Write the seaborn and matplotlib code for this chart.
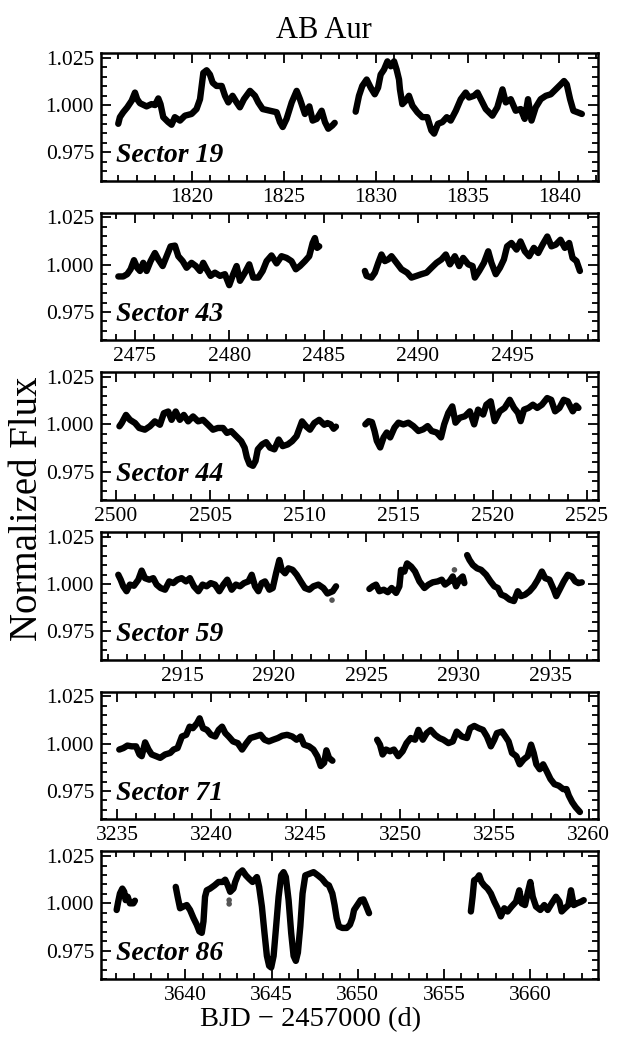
import numpy as np
import pandas as pd
import matplotlib
matplotlib.use("Agg")
import matplotlib.pyplot as plt
from matplotlib.ticker import MultipleLocator, FormatStrFormatter
import seaborn as sns

# ---- TESS light curves of AB Aur (binned along the light curve) ----
sectors = [19, 43, 44, 59, 71, 86]

t19 = [1815.99, 1816.08, 1816.26, 1816.48, 1816.72, 1816.90, 1817.02, 1817.17, 1817.53, 1817.80,
       1817.99, 1818.17, 1818.29, 1818.44, 1818.71, 1818.89, 1819.07, 1819.35, 1819.62, 1819.98,
       1820.25, 1820.44, 1820.62, 1820.80, 1820.98, 1821.13, 1821.34, 1821.62, 1821.80, 1821.98,
       1822.21, 1822.43, 1822.61, 1822.83, 1823.16, 1823.43, 1823.61, 1823.85, 1824.25, 1824.61,
       1824.79, 1824.94, 1825.15, 1825.43, 1825.70, 1825.88, 1826.15, 1826.39, 1826.57, 1826.79,
       1827.06, 1827.24, 1827.42, 1827.64, 1827.77,
       1828.91, 1829.09, 1829.27, 1829.51, 1829.73, 1829.95, 1830.13, 1830.27, 1830.45, 1830.64,
       1830.82, 1831.00, 1831.14, 1831.27, 1831.32, 1831.45, 1831.63, 1831.81, 1832.00, 1832.27,
       1832.54, 1832.81, 1833.03, 1833.18, 1833.39, 1833.63, 1833.87, 1834.08, 1834.36, 1834.63,
       1834.90, 1835.08, 1835.35, 1835.54, 1835.72, 1835.99, 1836.35, 1836.62, 1836.90, 1837.08,
       1837.35, 1837.62, 1837.89, 1838.11, 1838.29, 1838.48, 1838.71, 1838.98, 1839.26, 1839.53,
       1839.80, 1840.07, 1840.25, 1840.40, 1840.58, 1840.76, 1840.98, 1841.22]
f19 = [0.9901, 0.9936, 0.9962, 0.9988, 1.0023, 1.0066, 1.0031, 1.0010, 0.9993, 1.0005,
       1.0000, 1.0035, 1.0005, 0.9936, 0.9910, 0.9896, 0.9936, 0.9918, 0.9944, 0.9953,
       0.9979, 1.0031, 1.0170, 1.0184, 1.0161, 1.0118, 1.0101, 1.0101, 1.0049, 1.0014,
       1.0049, 1.0014, 0.9988, 1.0031, 1.0075, 1.0049, 1.0014, 0.9979, 0.9970, 0.9962,
       0.9910, 0.9884, 0.9927, 1.0014, 1.0075, 1.0031, 0.9953, 0.9993, 0.9918, 0.9927,
       0.9970, 0.9910, 0.9875, 0.9892, 0.9906,
       0.9965, 1.0049, 1.0101, 1.0135, 1.0092, 1.0057, 1.0092, 1.0161, 1.0187, 1.0231,
       1.0205, 1.0231, 1.0187, 1.0135, 1.0083, 1.0005, 1.0023, 1.0049, 0.9997, 0.9962,
       0.9936, 0.9936, 0.9866, 0.9849, 0.9901, 0.9910, 0.9936, 0.9918, 0.9970, 1.0031,
       1.0066, 1.0040, 1.0049, 1.0066, 1.0031, 0.9979, 0.9944, 0.9988, 1.0083, 1.0014,
       1.0031, 0.9970, 0.9979, 0.9927, 1.0031, 0.9918, 0.9988, 1.0031, 1.0049, 1.0057,
       1.0083, 1.0109, 1.0127, 1.0109, 1.0031, 0.9970, 0.9962, 0.9953]
gaps19 = [1828.3]

t43 = [2474.12, 2474.38, 2474.59, 2474.77, 2474.95, 2475.12, 2475.27, 2475.44, 2475.62, 2475.83,
       2476.06, 2476.24, 2476.47, 2476.68, 2476.89, 2477.12, 2477.30, 2477.53, 2477.74, 2478.00,
       2478.23, 2478.45, 2478.62, 2478.80, 2479.01, 2479.24, 2479.51, 2479.77, 2480.00, 2480.21,
       2480.39, 2480.57, 2480.83, 2481.06, 2481.27, 2481.54, 2481.77, 2481.98, 2482.24, 2482.51,
       2482.77, 2483.04, 2483.30, 2483.53, 2483.75, 2484.01, 2484.24, 2484.42, 2484.54, 2484.66,
       2484.77,
       2487.19, 2487.28, 2487.54, 2487.72, 2487.90, 2488.07, 2488.25, 2488.43, 2488.60, 2488.87,
       2489.13, 2489.43, 2489.66, 2489.93, 2490.19, 2490.46, 2490.72, 2490.99, 2491.25, 2491.48,
       2491.70, 2491.96, 2492.19, 2492.40, 2492.67, 2492.90, 2493.02, 2493.25, 2493.50, 2493.73,
       2493.90, 2494.13, 2494.35, 2494.56, 2494.73, 2494.96, 2495.23, 2495.44, 2495.67, 2495.90,
       2496.15, 2496.38, 2496.61, 2496.86, 2497.08, 2497.31, 2497.56, 2497.79, 2498.02, 2498.20,
       2498.41, 2498.59]
f43 = [0.9938, 0.9938, 0.9950, 0.9976, 1.0024, 0.9984, 0.9967, 1.0010, 0.9967, 1.0019,
       1.0062, 1.0028, 0.9993, 1.0045, 1.0097, 1.0101, 1.0045, 1.0019, 0.9984, 1.0010,
       0.9993, 0.9967, 1.0010, 0.9976, 0.9941, 0.9958, 0.9941, 0.9950, 0.9892, 0.9950,
       0.9993, 0.9915, 0.9958, 1.0002, 0.9932, 0.9932, 0.9967, 1.0019, 1.0049, 1.0007,
       1.0045, 1.0036, 1.0019, 0.9976, 0.9993, 1.0019, 1.0045, 1.0115, 1.0141, 1.0089,
       1.0097,
       0.9967, 0.9941, 0.9932, 0.9958, 1.0010, 1.0054, 1.0019, 1.0028, 1.0045, 1.0010,
       0.9976, 0.9958, 0.9932, 0.9941, 0.9950, 0.9958, 0.9984, 1.0010, 1.0028, 1.0054,
       1.0002, 1.0045, 0.9993, 1.0036, 1.0002, 0.9993, 0.9932, 0.9967, 1.0010, 1.0071,
       1.0010, 0.9950, 0.9984, 1.0028, 1.0097, 1.0115, 1.0080, 1.0123, 1.0071, 1.0045,
       1.0089, 1.0062, 1.0106, 1.0149, 1.0097, 1.0106, 1.0132, 1.0089, 1.0115, 1.0036,
       1.0019, 0.9967]
gaps43 = [2486.0]

t44 = [2500.18, 2500.30, 2500.53, 2500.74, 2501.01, 2501.23, 2501.53, 2501.80, 2502.06, 2502.33,
       2502.54, 2502.77, 2502.95, 2503.17, 2503.39, 2503.60, 2503.83, 2504.09, 2504.36, 2504.62,
       2504.89, 2505.15, 2505.41, 2505.68, 2505.89, 2506.12, 2506.38, 2506.65, 2506.83, 2506.95,
       2507.09, 2507.27, 2507.41, 2507.53, 2507.76, 2507.97, 2508.18, 2508.41, 2508.64, 2508.85,
       2509.12, 2509.35, 2509.59, 2509.88, 2510.09, 2510.30, 2510.53, 2510.79, 2511.06, 2511.23,
       2511.40, 2511.56, 2511.68,
       2513.24, 2513.41, 2513.59, 2513.73, 2513.85, 2514.03, 2514.21, 2514.38, 2514.56, 2514.79,
       2515.00, 2515.26, 2515.53, 2515.79, 2516.06, 2516.32, 2516.55, 2516.76, 2517.03, 2517.26,
       2517.43, 2517.65, 2517.86, 2518.03, 2518.26, 2518.53, 2518.79, 2519.02, 2519.23, 2519.50,
       2519.67, 2519.90, 2520.11, 2520.38, 2520.64, 2520.91, 2521.14, 2521.35, 2521.49, 2521.67,
       2521.91, 2522.14, 2522.37, 2522.62, 2522.90, 2523.11, 2523.32, 2523.55, 2523.78, 2523.99,
       2524.26, 2524.44, 2524.56]
f44 = [0.9990, 1.0007, 1.0050, 1.0024, 1.0007, 0.9981, 0.9972, 0.9990, 1.0016, 0.9998,
       1.0059, 1.0068, 1.0024, 1.0068, 1.0024, 1.0050, 1.0016, 1.0042, 1.0016, 1.0024,
       0.9998, 0.9972, 0.9981, 0.9981, 0.9955, 0.9964, 0.9938, 0.9911, 0.9877, 0.9825,
       0.9790, 0.9781, 0.9807, 0.9868, 0.9894, 0.9906, 0.9877, 0.9868, 0.9920, 0.9885,
       0.9894, 0.9911, 0.9938, 1.0016, 0.9990, 0.9972, 1.0007, 1.0024, 0.9998, 1.0007,
       1.0000, 0.9977, 0.9988,
       1.0000, 1.0017, 1.0012, 0.9965, 0.9913, 0.9878, 0.9931, 0.9957, 0.9931, 0.9983,
       1.0009, 1.0000, 1.0009, 0.9991, 0.9965, 0.9974, 0.9991, 0.9965, 0.9957, 0.9931,
       1.0000, 1.0061, 1.0095, 1.0009, 1.0035, 1.0043, 1.0069, 1.0000, 1.0078, 1.0052,
       1.0104, 1.0122, 1.0017, 1.0069, 1.0087, 1.0130, 1.0087, 1.0061, 1.0017, 1.0078,
       1.0087, 1.0104, 1.0087, 1.0104, 1.0139, 1.0130, 1.0069, 1.0087, 1.0130, 1.0122,
       1.0069, 1.0099, 1.0087]
gaps44 = [2512.5]

t59 = [2911.54, 2911.67, 2911.81, 2911.99, 2912.17, 2912.39, 2912.63, 2912.81, 2912.99, 2913.22,
       2913.44, 2913.62, 2913.84, 2914.08, 2914.31, 2914.53, 2914.75, 2914.98, 2915.22, 2915.43,
       2915.65, 2915.89, 2916.12, 2916.34, 2916.56, 2916.79, 2917.03, 2917.25, 2917.46, 2917.70,
       2917.93, 2918.15, 2918.37, 2918.61, 2918.79, 2918.97, 2919.15, 2919.33, 2919.51, 2919.75,
       2919.93, 2920.11, 2920.29, 2920.42, 2920.60, 2920.78, 2921.01, 2921.23, 2921.45, 2921.68,
       2921.92, 2922.14, 2922.41, 2922.68, 2922.90, 2923.19, 2923.37,
       2925.18, 2925.36, 2925.54, 2925.72, 2925.96, 2926.18, 2926.39, 2926.63, 2926.81, 2926.90,
       2927.08, 2927.23, 2927.45, 2927.66, 2927.90, 2928.17, 2928.39, 2928.62, 2928.89, 2929.11,
       2929.29, 2929.53, 2929.71, 2929.89, 2930.07, 2930.25, 2930.34,
       2930.49, 2930.62, 2930.80, 2931.03, 2931.25, 2931.52, 2931.76, 2931.97, 2932.16, 2932.34,
       2932.55, 2932.79, 2933.03, 2933.24, 2933.42, 2933.64, 2933.88, 2934.11, 2934.33, 2934.55,
       2934.73, 2934.96, 2935.20, 2935.33, 2935.51, 2935.74, 2935.96, 2936.18, 2936.36, 2936.54,
       2936.72]
f59 = [1.0049, 1.0023, 0.9988, 0.9962, 0.9997, 0.9991, 1.0023, 1.0071, 1.0031, 1.0023,
       1.0031, 0.9997, 0.9979, 0.9970, 1.0014, 1.0005, 1.0023, 1.0031, 1.0014, 1.0031,
       0.9988, 0.9962, 0.9997, 0.9988, 1.0005, 0.9997, 0.9962, 0.9997, 1.0023, 0.9970,
       0.9997, 0.9988, 1.0005, 1.0014, 1.0049, 0.9988, 0.9962, 1.0005, 1.0014, 0.9970,
       0.9979, 1.0057, 1.0127, 1.0075, 1.0057, 1.0083, 1.0075, 1.0049, 1.0014, 0.9979,
       0.9970, 0.9988, 0.9997, 0.9979, 0.9950, 0.9962, 0.9988,
       0.9974, 0.9988, 0.9997, 0.9962, 0.9970, 0.9957, 0.9979, 0.9953, 0.9988, 1.0075,
       1.0066, 1.0109, 1.0092, 1.0066, 1.0014, 0.9979, 0.9997, 1.0009, 1.0014, 1.0023,
       0.9997, 1.0014, 1.0040, 0.9988, 1.0023, 1.0040, 1.0005,
       1.0153, 1.0127, 1.0101, 1.0083, 1.0075, 1.0049, 1.0014, 0.9988, 0.9979, 0.9944,
       0.9936, 0.9918, 0.9910, 0.9962, 0.9936, 0.9944, 0.9962, 0.9988, 1.0023, 1.0066,
       1.0031, 1.0023, 0.9970, 0.9936, 0.9970, 1.0014, 1.0049, 1.0040, 1.0014, 1.0005,
       1.0009]
gaps59 = [2924.2, 2930.42]
t59_out = [2923.15, 2929.80]
f59_out = [0.9915, 1.0075]

t71 = [3235.12, 3235.34, 3235.55, 3235.78, 3236.01, 3236.19, 3236.31, 3236.49, 3236.67, 3236.84,
       3237.07, 3237.29, 3237.55, 3237.82, 3238.00, 3238.21, 3238.44, 3238.67, 3238.85, 3239.02,
       3239.24, 3239.38, 3239.56, 3239.77, 3239.98, 3240.21, 3240.39, 3240.57, 3240.74, 3240.92,
       3241.15, 3241.40, 3241.63, 3241.86, 3242.07, 3242.34, 3242.61, 3242.82, 3243.05, 3243.28,
       3243.53, 3243.76, 3244.02, 3244.29, 3244.52, 3244.73, 3244.91, 3245.18, 3245.41, 3245.62,
       3245.80, 3245.98, 3246.10, 3246.24, 3246.42,
       3248.79, 3248.94, 3249.08, 3249.26, 3249.47, 3249.68, 3249.91, 3250.14, 3250.35, 3250.57,
       3250.80, 3250.98, 3251.21, 3251.42, 3251.63, 3251.86, 3252.09, 3252.30, 3252.57, 3252.80,
       3253.01, 3253.28, 3253.55, 3253.72, 3253.94, 3254.17, 3254.40, 3254.61, 3254.82, 3255.00,
       3255.14, 3255.41, 3255.59, 3255.76, 3255.94, 3256.17, 3256.35, 3256.56, 3256.77, 3256.95,
       3257.09, 3257.23, 3257.41, 3257.59, 3257.77, 3257.98, 3258.19, 3258.42, 3258.65, 3258.83,
       3258.95, 3259.13, 3259.31, 3259.54]
f71 = [0.9969, 0.9977, 0.9990, 0.9986, 0.9986, 0.9943, 0.9934, 1.0007, 0.9969, 0.9943,
       0.9934, 0.9925, 0.9943, 0.9951, 0.9969, 0.9977, 1.0038, 1.0047, 1.0090, 1.0082,
       1.0108, 1.0134, 1.0082, 1.0073, 1.0047, 1.0038, 1.0073, 1.0090, 1.0056, 1.0038,
       1.0012, 1.0003, 0.9969, 1.0003, 1.0030, 1.0038, 1.0047, 1.0021, 1.0012, 1.0021,
       1.0030, 1.0042, 1.0047, 1.0038, 1.0021, 1.0038, 0.9995, 0.9986, 0.9969, 0.9934,
       0.9882, 0.9899, 0.9965, 0.9925, 0.9910,
       1.0021, 0.9995, 0.9943, 0.9969, 0.9960, 0.9969, 0.9934, 0.9960, 1.0003, 1.0030,
       1.0021, 1.0073, 1.0021, 1.0056, 1.0073, 1.0047, 1.0030, 1.0021, 1.0003, 1.0012,
       1.0064, 1.0038, 1.0030, 1.0082, 1.0094, 1.0082, 1.0073, 1.0038, 0.9986, 1.0021,
       1.0056, 1.0064, 1.0038, 1.0012, 0.9951, 0.9934, 0.9891, 0.9917, 0.9934, 0.9995,
       0.9951, 0.9891, 0.9865, 0.9891, 0.9856, 0.9813, 0.9786, 0.9778, 0.9760, 0.9760,
       0.9726, 0.9691, 0.9665, 0.9639]
gaps71 = [3247.5]

t86 = [3636.01, 3636.10, 3636.20, 3636.34, 3636.45, 3636.53, 3636.65, 3636.78, 3636.98, 3637.07,
       3639.44, 3639.55, 3639.69, 3639.88, 3640.08, 3640.27, 3640.47, 3640.66, 3640.81, 3640.95,
       3641.05, 3641.14, 3641.24, 3641.43, 3641.69, 3641.92, 3642.15, 3642.31, 3642.46, 3642.60,
       3642.79, 3642.89, 3643.08, 3643.31, 3643.51, 3643.70, 3643.90, 3644.15, 3644.28, 3644.44,
       3644.59, 3644.73, 3644.86, 3644.98, 3645.12, 3645.25, 3645.41, 3645.56, 3645.70, 3645.83,
       3645.99, 3646.14, 3646.28, 3646.41, 3646.53, 3646.67, 3646.80, 3646.96, 3647.19, 3647.44,
       3647.69, 3647.93, 3648.16, 3648.33, 3648.53, 3648.66, 3648.78, 3648.91, 3649.11, 3649.36,
       3649.55, 3649.69, 3649.79, 3649.98, 3650.17, 3650.33, 3650.47, 3650.66,
       3656.57, 3656.67, 3656.76, 3656.92, 3657.05, 3657.19, 3657.34, 3657.54, 3657.73, 3657.93,
       3658.12, 3658.31, 3658.51, 3658.70, 3658.93, 3659.19, 3659.38, 3659.52, 3659.71, 3659.86,
       3660.02, 3660.16, 3660.35, 3660.60, 3660.83, 3661.03, 3661.26, 3661.51, 3661.71, 3661.84,
       3662.03, 3662.23, 3662.38, 3662.54, 3662.73, 3662.97, 3663.12]
f86 = [0.9965, 1.0009, 1.0052, 1.0078, 1.0061, 1.0017, 1.0035, 1.0000, 1.0000, 1.0014,
       1.0087, 1.0035, 0.9974, 0.9983, 0.9991, 0.9965, 0.9922, 0.9887, 0.9852, 0.9844,
       0.9905, 1.0035, 1.0069, 1.0078, 1.0095, 1.0113, 1.0113, 1.0125, 1.0095, 1.0061,
       1.0078, 1.0113, 1.0156, 1.0174, 1.0148, 1.0130, 1.0113, 1.0139, 1.0087, 0.9983,
       0.9844, 0.9722, 0.9670, 0.9661, 0.9722, 0.9861, 1.0035, 1.0148, 1.0165, 1.0139,
       1.0017, 0.9844, 0.9722, 0.9696, 0.9740, 0.9878, 1.0052, 1.0148, 1.0156, 1.0165,
       1.0148, 1.0130, 1.0104, 1.0095, 1.0052, 0.9991, 0.9922, 0.9878, 0.9870, 0.9870,
       0.9887, 0.9922, 0.9965, 0.9991, 1.0017, 1.0021, 0.9991, 0.9948,
       0.9957, 1.0035, 1.0122, 1.0130, 1.0148, 1.0113, 1.0095, 1.0078, 1.0052, 1.0009,
       0.9974, 0.9931, 0.9974, 0.9957, 0.9983, 1.0009, 1.0069, 1.0000, 0.9991, 1.0052,
       1.0113, 1.0035, 0.9983, 0.9965, 0.9991, 0.9965, 1.0000, 1.0035, 1.0009, 0.9957,
       0.9974, 0.9991, 1.0069, 0.9991, 1.0000, 1.0009, 1.0017]
gaps86 = [3638.0, 3653.0]
t86_out = [3642.54, 3642.54]
f86_out = [1.0017, 0.9997]

times = [t19, t43, t44, t59, t71, t86]
fluxes = [f19, f43, f44, f59, f71, f86]
gaps = [gaps19, gaps43, gaps44, gaps59, gaps71, gaps86]
outliers = {59: (t59_out, f59_out), 86: (t86_out, f86_out)}
xlims = [(1815.05, 1842.1), (2473.2, 2499.55), (2499.2, 2525.6),
         (2910.6, 2937.6), (3234.15, 3260.5), (3635.1, 3663.95)]

# ---- style ----
sns.set_style("ticks")
plt.rcParams["font.family"] = ["Liberation Serif", "DejaVu Serif"]
plt.rcParams.update({
    "axes.linewidth": 1.8,
    "axes.edgecolor": "black",
    "text.color": "black",
    "axes.labelcolor": "black",
    "xtick.color": "black",
    "ytick.color": "black",
})

fig, axes = plt.subplots(6, 1, figsize=(6.21, 10.48), dpi=100)
fig.subplots_adjust(left=0.1626, right=0.963, top=0.9494, bottom=0.0658, hspace=0.25)

for ax, sec, t, f, g, xl in zip(axes, sectors, times, fluxes, gaps, xlims):
    df = pd.DataFrame({"time": t, "flux": f})
    df["seg"] = np.searchsorted(g, df["time"].values)
    sns.lineplot(data=df, x="time", y="flux", units="seg", estimator=None, sort=False,
                 color="black", lw=4.6, solid_capstyle="round", solid_joinstyle="round",
                 ax=ax, legend=False)
    if sec in outliers:
        to, fo = outliers[sec]
        sns.scatterplot(x=to, y=fo, color="#555555", s=16, edgecolor="none", ax=ax)

    ax.set_xlim(*xl)
    ax.set_ylim(0.96, 1.0275)
    ax.set_xlabel("")
    ax.set_ylabel("")
    ax.xaxis.set_major_locator(MultipleLocator(5))
    ax.xaxis.set_minor_locator(MultipleLocator(1))
    ax.yaxis.set_major_locator(MultipleLocator(0.025))
    ax.yaxis.set_minor_locator(MultipleLocator(0.005))
    ax.yaxis.set_major_formatter(FormatStrFormatter("%.3f"))
    ax.xaxis.set_major_formatter(FormatStrFormatter("%d"))
    ax.tick_params(which="both", direction="in", top=True, right=True,
                   labelsize=15.5, width=1.3, pad=5, colors="black")
    ax.tick_params(which="major", length=7)
    ax.tick_params(which="minor", length=4)
    for s in ax.spines.values():
        s.set_linewidth(1.8)
        s.set_color("black")
    ax.text(0.03, 0.15, f"Sector {sec}", transform=ax.transAxes, fontsize=20,
            fontweight="bold", fontstyle="italic", ha="left", va="baseline", color="black")

fig.text(0.522, 0.971, "AB Aur", ha="center", va="center", fontsize=22)
fig.text(0.5, 0.027, "BJD \u2212 2457000 (d)", ha="center", va="center", fontsize=20.5)
fig.text(0.045, 0.515, "Normalized Flux", ha="center", va="center", rotation=90, fontsize=28)

fig.savefig("out.png", dpi=100)
